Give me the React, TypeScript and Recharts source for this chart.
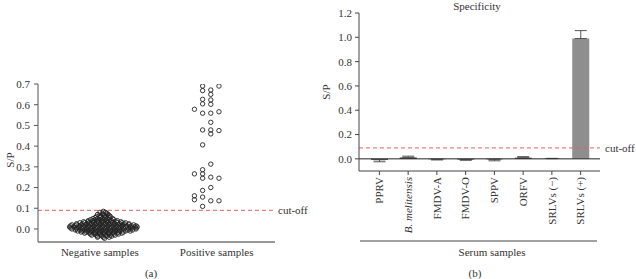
import React from 'react'
import {
  Bar,
  BarChart,
  Cell,
  ErrorBar,
  ReferenceLine,
  Scatter,
  ScatterChart,
  XAxis,
  YAxis,
} from 'recharts'

const FONT = '"Liberation Serif", "Times New Roman", serif'
const TEXT = '#333'

// panel (a): S/P of the individual samples
const GROUPS = ['Negative samples', 'Positive samples']
const SP_TICKS_A = [0, 0.1, 0.2, 0.3, 0.4, 0.5, 0.6, 0.7]
const CUT_OFF = 0.09

// negative samples, by S/P row: [S/P, jitter positions in the swarm]
const NEG_ROWS: Array<[number, number[]]> = [
  [0.085, [0.03]],
  [0.08, [0.0, 0.05]],
  [0.075, [0.02, 0.06]],
  [0.07, [-0.02, 0.03, 0.07]],
  [0.065, [0.0, 0.04, 0.08]],
  [0.06, [-0.03, 0.01, 0.05, 0.09]],
  [0.055, [-0.04, 0.0, 0.04, 0.08]],
  [0.05, [-0.06, -0.02, 0.02, 0.06, 0.11]],
  [0.045, [-0.08, -0.04, 0.0, 0.04, 0.08, 0.12]],
  [0.04, [-0.1, -0.06, -0.02, 0.02, 0.06, 0.1, 0.15]],
  [0.035, [-0.14, -0.1, -0.06, -0.02, 0.02, 0.06, 0.1, 0.14, 0.18]],
  [0.03, [-0.17, -0.13, -0.09, -0.05, -0.01, 0.03, 0.07, 0.11, 0.15, 0.19, 0.22]],
  [0.025, [-0.2, -0.15, -0.11, -0.07, -0.03, 0.01, 0.05, 0.09, 0.13, 0.17, 0.21, 0.25]],
  [0.02, [-0.24, -0.2, -0.16, -0.12, -0.08, -0.04, 0.0, 0.04, 0.08, 0.12, 0.16, 0.2, 0.25, 0.29]],
  [0.015, [-0.25, -0.21, -0.17, -0.13, -0.09, -0.05, -0.01, 0.03, 0.07, 0.11, 0.15, 0.19, 0.23, 0.27, 0.31]],
  [0.01, [-0.26, -0.22, -0.18, -0.14, -0.1, -0.06, -0.02, 0.02, 0.06, 0.1, 0.14, 0.18, 0.22, 0.26, 0.3, 0.32]],
  [0.005, [-0.25, -0.2, -0.16, -0.12, -0.08, -0.04, 0.0, 0.04, 0.08, 0.12, 0.16, 0.2, 0.24, 0.28, 0.31]],
  [0.0, [-0.24, -0.2, -0.15, -0.11, -0.07, -0.03, 0.01, 0.05, 0.09, 0.13, 0.17, 0.21, 0.26, 0.31]],
  [-0.005, [-0.21, -0.17, -0.13, -0.09, -0.05, -0.01, 0.03, 0.07, 0.11, 0.15, 0.19, 0.24, 0.28]],
  [-0.01, [-0.19, -0.15, -0.11, -0.07, -0.03, 0.01, 0.05, 0.09, 0.13, 0.17, 0.22, 0.26]],
  [-0.015, [-0.16, -0.12, -0.08, -0.04, 0.0, 0.04, 0.08, 0.12, 0.16, 0.2]],
  [-0.02, [-0.13, -0.09, -0.05, -0.01, 0.03, 0.07, 0.11, 0.15, 0.19]],
  [-0.025, [-0.08, -0.04, 0.0, 0.04, 0.08, 0.12, 0.16]],
  [-0.03, [-0.07, -0.03, 0.01, 0.05, 0.09, 0.13]],
  [-0.035, [-0.02, 0.02, 0.06, 0.1]],
  [-0.04, [-0.02, 0.03, 0.08]],
  [-0.045, [0.04]],
]

// positive samples: [jitter, S/P]
const POS_POINTS: Array<[number, number]> = [
  [-0.12, 0.69], [-0.12, 0.668], [-0.12, 0.626], [-0.12, 0.604], [-0.12, 0.559],
  [-0.12, 0.478], [-0.12, 0.406], [-0.12, 0.286], [-0.12, 0.266], [-0.12, 0.245],
  [-0.12, 0.186], [-0.12, 0.154], [-0.12, 0.109],
  [-0.05, 0.671], [-0.05, 0.65], [-0.05, 0.623], [-0.05, 0.602], [-0.05, 0.559],
  [-0.05, 0.515], [-0.05, 0.478], [-0.05, 0.459], [-0.05, 0.313], [-0.05, 0.25],
  [-0.05, 0.2], [-0.05, 0.136],
  [-0.19, 0.578], [-0.19, 0.266], [-0.19, 0.16], [-0.19, 0.141],
  [0.02, 0.69], [0.02, 0.566], [0.02, 0.475], [0.02, 0.245], [0.02, 0.136],
]

// panel (b): specificity
const SERA = ['PPRV', 'B. melitensis', 'FMDV-A', 'FMDV-O', 'SPPV', 'ORFV', 'SRLVs (\u2212)', 'SRLVs (+)']
const SP_MEAN = [-0.008, 0.012, -0.004, -0.006, -0.004, 0.01, 0.002, 0.99]
const ERR_LOW = [0.016, 0, 0.005, 0.006, 0.012, 0, 0, 0]
const ERR_HIGH = [0, 0.01, 0, 0, 0, 0.008, 0.002, 0.065]
const SP_TICKS_B = [0, 0.2, 0.4, 0.6, 0.8, 1.0, 1.2]

const negData = NEG_ROWS.flatMap(([sp, xs]) => xs.map((j) => ({ x: j, y: sp })))
const posData = POS_POINTS.map(([j, sp]) => ({ x: 1 + j, y: sp }))
const barData = SERA.map((name, i) => ({
  name,
  sp: SP_MEAN[i],
  err: [ERR_LOW[i], ERR_HIGH[i]],
}))

const tickStyle = { fill: TEXT, fontSize: 11, fontFamily: FONT }
const textProps = { fill: TEXT, fontSize: 11, fontFamily: FONT }

function OpenCircle(props: any) {
  return (
    <circle
      cx={props.cx}
      cy={props.cy}
      r={2.2}
      fill="none"
      stroke="#222"
      strokeWidth={0.9}
    />
  )
}

function SerumTick({ x, y, payload }: any) {
  const italic = payload.value === 'B. melitensis'
  return (
    <g transform={`translate(${x},${y})`}>
      <text
        transform="rotate(-90)"
        x={0}
        dy="0.35em"
        textAnchor="end"
        fill={TEXT}
        fontSize={11}
        fontFamily={FONT}
        fontStyle={italic ? 'italic' : 'normal'}
      >
        {payload.value}
      </text>
    </g>
  )
}

export default function App() {
  return (
    <div style={{ position: 'absolute', left: 0, top: 0, width: 636, height: 279, background: '#fff' }}>
      <div style={{ position: 'absolute', left: 0, top: 0 }}>
        <ScatterChart
          width={636}
          height={279}
          margin={{ top: 84, right: 361, bottom: 0, left: 0 }}
        >
          <XAxis
            type="number"
            dataKey="x"
            domain={[-0.53, 1.5]}
            allowDataOverflow
            ticks={[0, 1]}
            tickFormatter={(v: number) => GROUPS[v]}
            tick={tickStyle}
            tickLine={false}
            tickSize={4}
            tickMargin={2}
            height={37}
            axisLine={{ stroke: '#777', strokeWidth: 1.5 }}
            label={() => (
              <text x={151} y={277} textAnchor="middle" {...textProps}>
                (a)
              </text>
            )}
          />
          <YAxis
            type="number"
            dataKey="y"
            domain={[-0.063, 0.7]}
            allowDataOverflow
            ticks={SP_TICKS_A}
            tickFormatter={(v: number) => v.toFixed(1)}
            tick={tickStyle}
            tickSize={4}
            tickMargin={4}
            width={38}
            axisLine={{ stroke: '#555' }}
            tickLine={{ stroke: '#555' }}
            label={() => (
              <text x={14} y={160} transform="rotate(-90 14 160)" textAnchor="middle" {...textProps}>
                S/P
              </text>
            )}
          />
          <ReferenceLine
            y={CUT_OFF}
            stroke="#e06060"
            strokeDasharray="4 3"
            label={{ value: 'cut-off', position: 'right', offset: 3, ...textProps }}
          />
          <Scatter data={negData} shape={OpenCircle} isAnimationActive={false} />
          <Scatter data={posData} shape={OpenCircle} isAnimationActive={false} />
        </ScatterChart>
      </div>

      <div style={{ position: 'absolute', left: 0, top: 0 }}>
        <BarChart
          width={636}
          height={279}
          data={barData}
          margin={{ top: 13, right: 36, bottom: 0, left: 300 }}
        >
          <XAxis
            dataKey="name"
            interval={0}
            padding={{ left: 6, right: 5 }}
            tick={<SerumTick />}
            tickSize={4}
            tickMargin={2}
            height={108}
            axisLine={{ stroke: '#444' }}
            tickLine={{ stroke: '#444' }}
            label={() => (
              <g>
                <line x1={360} y1={241} x2={597} y2={241} stroke="#444" />
                <text x={492} y={256} textAnchor="middle" {...textProps}>
                  Serum samples
                </text>
                <text x={475} y={277} textAnchor="middle" {...textProps}>
                  (b)
                </text>
                <text x={477} y={10} textAnchor="middle" {...textProps}>
                  Specificity
                </text>
              </g>
            )}
          />
          <YAxis
            type="number"
            domain={[-0.1, 1.2]}
            allowDataOverflow
            ticks={SP_TICKS_B}
            tickFormatter={(v: number) => v.toFixed(1)}
            tick={tickStyle}
            tickSize={4}
            tickMargin={3}
            width={59}
            axisLine={{ stroke: '#444' }}
            tickLine={{ stroke: '#444' }}
            label={() => (
              <text x={330} y={92} transform="rotate(-90 330 92)" textAnchor="middle" {...textProps}>
                S/P
              </text>
            )}
          />
          <ReferenceLine
            y={CUT_OFF}
            stroke="#e06060"
            strokeDasharray="4 3"
            label={{ value: 'cut-off', position: 'right', offset: 5, ...textProps }}
          />
          <Bar dataKey="sp" barSize={17} isAnimationActive={false}>
            {barData.map((d) => (
              <Cell key={d.name} fill={d.sp > CUT_OFF ? '#8e8e8e' : '#2e2e2e'} />
            ))}
            <ErrorBar dataKey="err" width={6} stroke="#555" strokeWidth={1} direction="y" />
          </Bar>
          <ReferenceLine y={0} stroke="#222" />
        </BarChart>
      </div>
    </div>
  )
}
